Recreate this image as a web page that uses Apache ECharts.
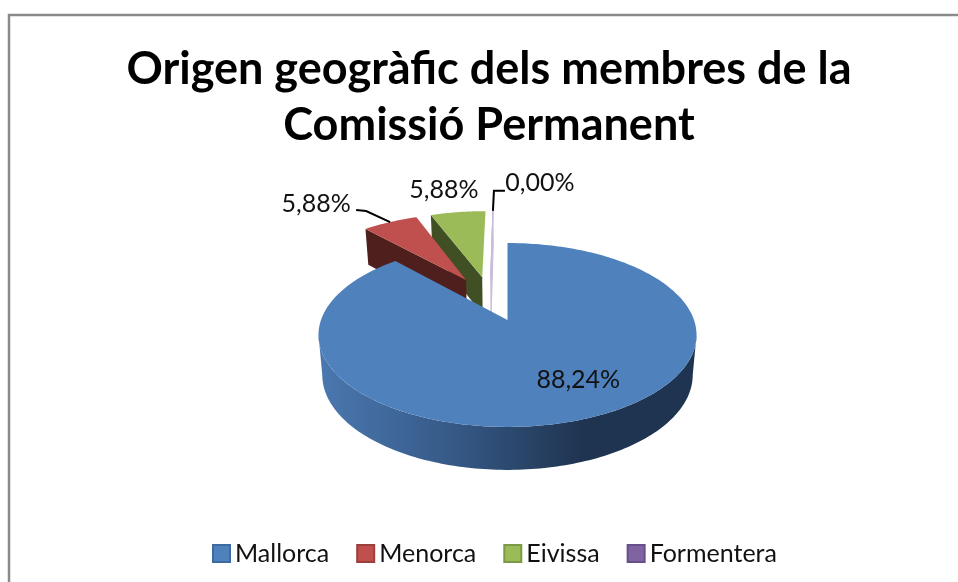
<!DOCTYPE html>
<html>
<head>
<meta charset="utf-8">
<title>Origen geogràfic</title>
<script src="https://cdn.jsdelivr.net/npm/echarts@6/dist/echarts.min.js"></script>
<style>
html, body { margin: 0; padding: 0; background: #fff; }
#chart { width: 958px; height: 582px; }
</style>
</head>
<body>
<div id="chart"></div>
<script>
var categories = ['Mallorca', 'Menorca', 'Eivissa', 'Formentera'];
var percents = [88.24, 5.88, 5.88, 0];
var percentLabels = ['88,24%', '5,88%', '5,88%', '0,00%'];

// colors per slice: top face, side face, legend border
var topColors = ['#4f81bd', '#c0504d', '#9bbb59', '#8064a2'];
var sideColors = ['#2f4d75', '#4f1f1d', '#414f25', '#c9bcdb'];
var borderColors = ['#3d6a9f', '#9c3f3c', '#7a9a45', '#66508a'];
// drawing order, far slices first
var zOrder = [5, 4, 3, 2];

var FONT = 'Lato, Carlito, sans-serif';

// projection of the pie plane, the excel 3d view
var CX = 507.5, CY = 320, RX = 186.5, RY = 89.5, PERSP = 0.163, DEPTH = 39.3;
var EXPLODE = 0.27;

// label anchor: fraction of radius, then offset in px; leader points are offsets from the anchor
var labelStyle = [
	{ radius: 0.7, dx: 18, dy: -5, leader: null },
	{ radius: 1, dx: -74, dy: -18, leader: [[-24, -11], [-34, -12]] },
	{ radius: 1, dx: -14, dy: -22, leader: null },
	{ radius: 1, dx: 47, dy: -28, leader: [[1, -20], [12, -20]] }
];

var total = percents.reduce(function (a, b) { return a + b; }, 0);

function project(u, v, bottom) {
	var s = 1 / (1 - PERSP * v);
	var shrink = bottom ? 0.98 : 1;
	return [CX + RX * u * s * shrink, CY + RY * v * s + (bottom ? DEPTH * Math.sqrt(s) : 0)];
}

function sliceAngles(index) {
	var before = 0;
	for (var i = 0; i < index; i++) {
		before += percents[i];
	}
	var start = before / total * Math.PI * 2;
	var end = (before + percents[index]) / total * Math.PI * 2;
	return { start: start, end: end, mid: (start + end) / 2 };
}

// the first slice sits at the origin of the plane, the others are moved from it
function sliceCenter(index) {
	var first = sliceAngles(0).mid;
	var mid = sliceAngles(index).mid;
	return [
		EXPLODE * (Math.sin(mid) - Math.sin(first)),
		EXPLODE * (Math.cos(first) - Math.cos(mid))
	];
}

function rimPoint(center, angle, radius, bottom) {
	return project(center[0] + radius * Math.sin(angle), center[1] - radius * Math.cos(angle), bottom);
}

function arcPoints(center, from, to, bottom) {
	var pts = [];
	var steps = Math.max(1, Math.ceil(Math.abs(to - from) / 0.02));
	for (var i = 0; i <= steps; i++) {
		pts.push(rimPoint(center, from + (to - from) * i / steps, 1, bottom));
	}
	return pts;
}

function renderSlice(index) {
	return function (params, api) {
		var a = sliceAngles(index);
		var c = sliceCenter(index);
		var children = [];
		var apex = project(c[0], c[1], false);
		var apexLow = project(c[0], c[1], true);

		// outer wall, only the part turned to the viewer
		var wallFrom = Math.max(a.start, Math.acos(-PERSP));
		var wallTo = Math.min(a.end, Math.PI * 2 - Math.acos(-PERSP));
		if (wallTo > wallFrom) {
			var wall = arcPoints(c, wallFrom, wallTo, false).concat(arcPoints(c, wallTo, wallFrom, true));
			children.push({
				type: 'polygon',
				shape: { points: wall },
				style: {
					fill: new echarts.graphic.LinearGradient(1, 0, 0, 0, [
						{ offset: 0, color: '#1f3450' },
						{ offset: 0.3, color: '#1f3450' },
						{ offset: 0.65, color: '#365a88' },
						{ offset: 1, color: '#4b78b0' }
					])
				}
			});
		}

		// cut face on the left side of a moved slice
		if (a.start > Math.PI) {
			var outer = rimPoint(c, a.start, 1, false);
			var outerLow = rimPoint(c, a.start, 1, true);
			children.push({
				type: 'polygon',
				shape: { points: [apex, outer, outerLow, apexLow] },
				style: { fill: sideColors[index], stroke: percents[index] === 0 ? sideColors[index] : null, lineWidth: 1 }
			});
		}

		// top face
		var top = [apex].concat(arcPoints(c, a.start, a.end, false));
		children.push({
			type: 'polygon',
			shape: { points: top },
			style: { fill: api.visual('color'), stroke: percents[index] === 0 ? sideColors[index] : null, lineWidth: 1 }
		});

		// label and leader
		var ls = labelStyle[index];
		var anchor = rimPoint(c, a.mid, ls.radius, false);
		if (ls.leader) {
			var line = [anchor];
			ls.leader.forEach(function (p) {
				line.push([anchor[0] + p[0], anchor[1] + p[1]]);
			});
			children.push({
				type: 'polyline',
				shape: { points: line },
				style: { stroke: '#000', lineWidth: 2, fill: null }
			});
		}
		children.push({
			type: 'text',
			style: {
				text: percentLabels[index],
				x: anchor[0] + ls.dx,
				y: anchor[1] + ls.dy,
				align: 'center',
				verticalAlign: 'middle',
				font: '25px ' + FONT,
				fill: '#111'
			}
		});
		return { type: 'group', children: children };
	};
}

var series = categories.map(function (name, i) {
	return {
		name: name,
		type: 'custom',
		coordinateSystem: 'none',
		z: zOrder[i],
		silent: true,
		itemStyle: { color: topColors[i], borderColor: borderColors[i], borderWidth: 2 },
		renderItem: renderSlice(i),
		data: [[percents[i]]]
	};
});

var chart = echarts.init(document.getElementById('chart'));
chart.setOption({
	animation: false,
	backgroundColor: '#fff',
	title: {
		text: 'Origen geogràfic dels membres de la\nComissió Permanent',
		left: 484,
		top: 36,
		textAlign: 'center',
		textStyle: {
			fontFamily: FONT,
			fontWeight: 'bold',
			fontSize: 45,
			lineHeight: 56,
			color: '#000'
		}
	},
	legend: {
		data: categories,
		left: 207,
		top: 536,
		icon: 'rect',
		itemWidth: 17,
		itemHeight: 17,
		itemGap: 27,
		textStyle: { fontFamily: FONT, fontSize: 25, color: '#111' }
	},
	graphic: [{
		type: 'polyline',
		silent: true,
		shape: { points: [[9, 582], [9, 15], [958, 15]] },
		style: { stroke: '#8a8a8a', lineWidth: 2.5, fill: null }
	}],
	series: series
});
</script>
</body>
</html>
